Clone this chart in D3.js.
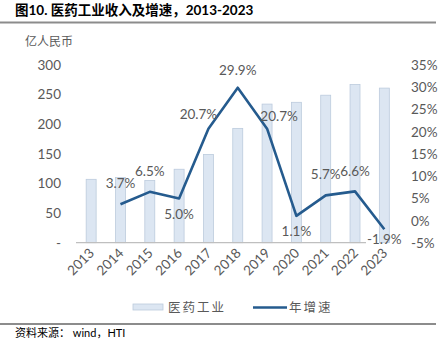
<!DOCTYPE html>
<html>
<head>
<meta charset="utf-8">
<script src="https://cdn.jsdelivr.net/npm/d3@7"></script>
<style>
  body { margin: 0; background: #fff; }
  text { font-family: Lato, "Noto Sans CJK SC", sans-serif; }
</style>
</head>
<body>
<div id="chart"></div>
<script>
const years = ['2013','2014','2015','2016','2017','2018','2019','2020','2021','2022','2023'];
// 医药工业 (亿人民币)
const revenue = [107, 110, 105, 124, 149, 193, 234, 237, 249, 267, 261];
// 年增速 (%)
const growth = [null, 3.7, 6.5, 5.0, 20.7, 29.9, 20.7, 1.1, 5.7, 6.6, -1.9];
const leftTicks = [0, 50, 100, 150, 200, 250, 300];
const rightTicks = [-5, 0, 5, 10, 15, 20, 25, 30, 35];

const width = 445, height = 352;
const cjk = '"Noto Sans CJK SC", sans-serif';
const grey = '#595959';

const svg = d3.select('#chart').append('svg')
  .attr('width', width).attr('height', height);

// title + rules
svg.append('text').attr('x', 15).attr('y', 15)
  .attr('font-family', cjk).attr('font-weight', 'bold').attr('font-size', 13.5)
  .attr('fill', '#000').text('图10. 医药工业收入及增速，2013-2023');
svg.append('line').attr('x1', 0).attr('x2', 436).attr('y1', 22.5).attr('y2', 22.5)
  .attr('stroke', '#8c8c8c').attr('stroke-width', 2);
svg.append('line').attr('x1', 0).attr('x2', 436).attr('y1', 324).attr('y2', 324)
  .attr('stroke', '#8c8c8c').attr('stroke-width', 2);
svg.append('text').attr('x', 15).attr('y', 337)
  .attr('font-family', cjk).attr('font-size', 11).attr('fill', '#000')
  .text('资料来源： wind，HTI');

svg.append('text').attr('x', 25).attr('y', 46)
  .attr('font-family', cjk).attr('font-size', 12).attr('fill', grey)
  .text('亿人民币');

const x = d3.scaleBand().domain(years).range([76.5, 399]).paddingInner(0.66).paddingOuter(0.33);
const yL = d3.scaleLinear().domain([0, 300]).range([242.7, 65]);
const yR = d3.scaleLinear().domain([-5, 35]).range([243, 65]);

// left axis
const axL = svg.append('g').attr('transform', 'translate(61,0)')
  .call(d3.axisLeft(yL).tickValues(leftTicks).tickSize(0).tickPadding(0)
    .tickFormat(d => d === 0 ? '-' : d));
axL.select('.domain').remove();
axL.selectAll('text').attr('font-size', 13.5).attr('fill', grey)
  .attr('font-family', 'Lato, sans-serif');

// right axis
const axR = svg.append('g').attr('transform', 'translate(411,0)')
  .call(d3.axisRight(yR).tickValues(rightTicks).tickSize(0).tickPadding(0)
    .tickFormat(d => d + '%'));
axR.select('.domain').remove();
axR.selectAll('text').attr('font-size', 13.5).attr('fill', grey)
  .attr('font-family', 'Lato, sans-serif');

// bars
svg.append('g').selectAll('rect').data(revenue).join('rect')
  .attr('x', (d, i) => x(years[i]))
  .attr('y', d => yL(d))
  .attr('width', x.bandwidth())
  .attr('height', d => yL(0) - yL(d))
  .attr('fill', '#dce6f2')
  .attr('stroke', '#bccbdd').attr('stroke-width', 0.8);

// base line
svg.append('line').attr('x1', 76).attr('x2', 366).attr('y1', 242.7).attr('y2', 242.7)
  .attr('stroke', '#bfbfbf').attr('stroke-width', 1.2);

// x labels
svg.append('g').selectAll('text').data(years).join('text')
  .attr('transform', d => `translate(${x(d) + x.bandwidth() / 2 + 4},${254}) rotate(-45)`)
  .attr('text-anchor', 'end').attr('font-size', 13.5).attr('fill', grey)
  .text(d => d);

// growth line
const pts = growth.map((g, i) => ({ year: years[i], g })).filter(p => p.g !== null);
const cx = d => x(d.year) + x.bandwidth() / 2;
svg.append('path').datum(pts)
  .attr('fill', 'none').attr('stroke', '#255b8e').attr('stroke-width', 2.6)
  .attr('stroke-linejoin', 'round')
  .attr('d', d3.line().x(cx).y(d => yR(d.g)));

// data labels: position relative to point
const labelPos = { '2014': [0, -16], '2015': [0, -16], '2016': [0, 20], '2017': [-10, -10],
  '2018': [0, -13], '2019': [12, -8], '2020': [0, 20], '2021': [0, -16],
  '2022': [0, -15], '2023': [0, 15] };
svg.append('g').selectAll('text').data(pts).join('text')
  .attr('x', d => cx(d) + labelPos[d.year][0])
  .attr('y', d => yR(d.g) + labelPos[d.year][1])
  .attr('text-anchor', 'middle').attr('font-size', 13.5).attr('fill', grey)
  .text(d => d.g.toFixed(1) + '%');

// legend
const lg = svg.append('g');
lg.append('rect').attr('x', 133).attr('y', 304).attr('width', 30).attr('height', 6)
  .attr('fill', '#dce6f2').attr('stroke', '#bccbdd').attr('stroke-width', 0.8);
lg.append('text').attr('x', 168).attr('y', 312).attr('font-family', cjk)
  .attr('font-size', 12.5).attr('fill', grey).attr('letter-spacing', 2).text('医药工业');
lg.append('line').attr('x1', 253).attr('x2', 287).attr('y1', 307.5).attr('y2', 307.5)
  .attr('stroke', '#255b8e').attr('stroke-width', 2.6);
lg.append('text').attr('x', 289).attr('y', 312).attr('font-family', cjk)
  .attr('font-size', 12.5).attr('fill', grey).attr('letter-spacing', 2).text('年增速');
</script>
</body>
</html>
